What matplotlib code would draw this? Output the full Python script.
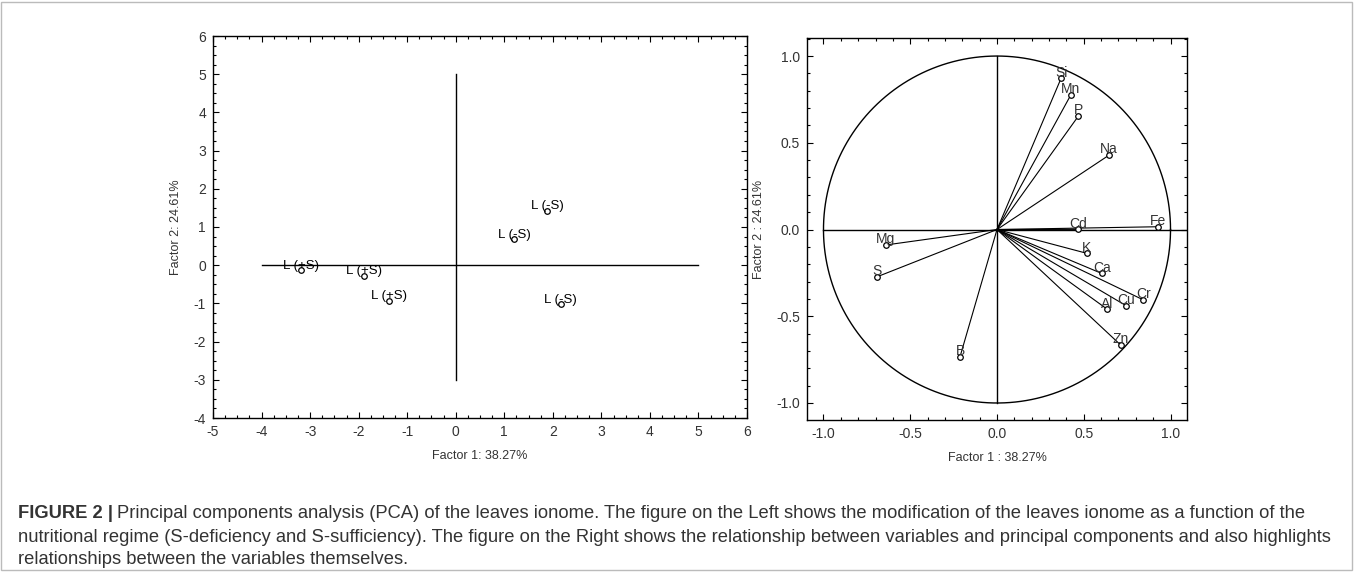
import numpy as np
import matplotlib
matplotlib.use("Agg")
import matplotlib.pyplot as plt
from matplotlib.ticker import MultipleLocator, FormatStrFormatter
from matplotlib.patches import Rectangle

plt.rcParams['font.family'] = ['Liberation Sans', 'DejaVu Sans']
plt.rcParams['axes.unicode_minus'] = False

# Left panel: case scores on factor 1 / factor 2
case_labels = ['L (+S)', 'L (+S)', 'L (+S)', 'L (-S)', 'L (-S)', 'L (-S)']
case_f1 = [-3.19, -1.89, -1.38, 1.89, 1.20, 2.16]
case_f2 = [-0.13, -0.28, -0.93, 1.42, 0.68, -1.02]

# Right panel: variable loadings on factor 1 / factor 2
var_labels = ['Si', 'Mn', 'P', 'Na', 'Cd', 'Fe', 'K', 'Ca', 'Cr', 'Cu', 'Al', 'Zn', 'B', 'Mg', 'S']
var_f1 = [0.369, 0.425, 0.469, 0.646, 0.469, 0.926, 0.517, 0.603, 0.844, 0.744, 0.636, 0.713, -0.213, -0.640, -0.690]
var_f2 = [0.871, 0.775, 0.654, 0.429, 0.001, 0.016, -0.137, -0.253, -0.406, -0.439, -0.460, -0.666, -0.733, -0.089, -0.272]

txt = '#333333'
fig = plt.figure(figsize=(13.55, 5.77), dpi=100)

# outer border of the figure panel
fig.patches.append(Rectangle((0.001, 0.012), 0.997, 0.985, transform=fig.transFigure,
                             fill=False, edgecolor='#bbbbbb', linewidth=1.0))


def style_axes(ax):
    ax.tick_params(which='both', direction='in', top=True, right=True,
                   labelsize=10, labelcolor=txt, width=0.8)
    ax.tick_params(which='major', length=4, pad=5)
    ax.tick_params(which='minor', length=2)
    for sp in ax.spines.values():
        sp.set_linewidth(1.0)


# ---- left panel
ax1 = fig.add_axes([213 / 1355, 1 - 418 / 577, 534 / 1355, 382 / 577])
ax1.set_xlim(-5, 6)
ax1.set_ylim(-4, 6)
ax1.xaxis.set_major_locator(MultipleLocator(1))
ax1.yaxis.set_major_locator(MultipleLocator(1))
ax1.xaxis.set_minor_locator(MultipleLocator(0.25))
ax1.yaxis.set_minor_locator(MultipleLocator(0.25))
style_axes(ax1)

ax1.plot([-4, 5], [0, 0], color='black', linewidth=1.0)
ax1.plot([0, 0], [-3, 5], color='black', linewidth=1.0)
ax1.plot(case_f1, case_f2, linestyle='none', marker='o', markersize=4,
         markerfacecolor='white', markeredgecolor='black', markeredgewidth=0.9)
for lab, x, y in zip(case_labels, case_f1, case_f2):
    ax1.annotate(lab, (x, y), xytext=(0, -1), textcoords='offset points',
                 ha='center', va='bottom', fontsize=9.5, color='black')
ax1.set_xlabel('Factor 1: 38.27%', fontsize=9, color=txt, labelpad=8)
ax1.set_ylabel('Factor 2: 24.61%', fontsize=9, color=txt, labelpad=8)

# ---- right panel
ax2 = fig.add_axes([807 / 1355, 1 - 420 / 577, 380 / 1355, 382 / 577])
ax2.set_xlim(-1.095, 1.095)
ax2.set_ylim(-1.098, 1.104)
ax2.xaxis.set_major_locator(MultipleLocator(0.5))
ax2.yaxis.set_major_locator(MultipleLocator(0.5))
ax2.xaxis.set_minor_locator(MultipleLocator(0.1))
ax2.yaxis.set_minor_locator(MultipleLocator(0.1))
ax2.xaxis.set_major_formatter(FormatStrFormatter('%.1f'))
ax2.yaxis.set_major_formatter(FormatStrFormatter('%.1f'))
style_axes(ax2)

theta = np.linspace(0, 2 * np.pi, 400)
ax2.plot(np.cos(theta), np.sin(theta), color='black', linewidth=1.0)
ax2.plot([-1, 1.095], [0, 0], color='black', linewidth=1.0)
ax2.plot([0, 0], [-1, 1], color='black', linewidth=1.0)
for x, y in zip(var_f1, var_f2):
    ax2.plot([0, x], [0, y], color='black', linewidth=0.8)
ax2.plot(var_f1, var_f2, linestyle='none', marker='o', markersize=4,
         markerfacecolor='white', markeredgecolor='black', markeredgewidth=0.9)
for lab, x, y in zip(var_labels, var_f1, var_f2):
    ax2.annotate(lab, (x, y), xytext=(0, -1), textcoords='offset points',
                 ha='center', va='bottom', fontsize=10, color=txt)
ax2.set_xlabel('Factor 1 : 38.27%', fontsize=9, color=txt, labelpad=8)
ax2.set_ylabel('Factor 2 : 24.61%', fontsize=9, color=txt, labelpad=8)

# ---- caption
cap_lines = [
    'Principal components analysis (PCA) of the leaves ionome. The figure on the Left shows the modification of the leaves ionome as a function of the',
    'nutritional regime (S-deficiency and S-sufficiency). The figure on the Right shows the relationship between variables and principal components and also highlights',
    'relationships between the variables themselves.',
]
renderer = fig.canvas.get_renderer()
head = fig.text(18 / 1355, 1 - 514 / 577, 'FIGURE 2 |', fontsize=13.2, fontweight='bold',
                color=txt, va='center', ha='left')
bb = head.get_window_extent(renderer=renderer)
fig.text((bb.x1 + 4) / 1355, 1 - 514 / 577, cap_lines[0], fontsize=13.2, color=txt,
         va='center', ha='left')
for i, line in enumerate(cap_lines[1:]):
    fig.text(18 / 1355, 1 - (537 + 22 * i) / 577, line, fontsize=13.2, color=txt,
             va='center', ha='left')

fig.savefig('out.png', dpi=100)
